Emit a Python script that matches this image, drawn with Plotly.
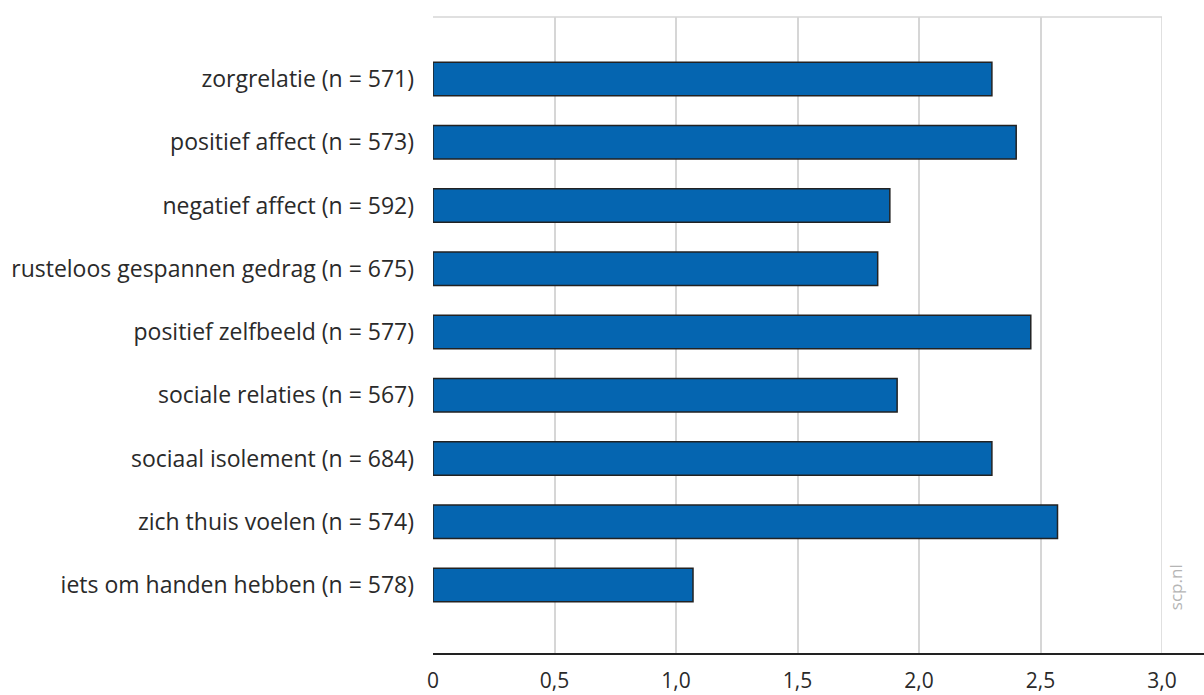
import plotly.graph_objects as go

# Gemiddelde scores per domein (met aantal respondenten)
categories = [
    "zorgrelatie (n = 571)",
    "positief affect (n = 573)",
    "negatief affect (n = 592)",
    "rusteloos gespannen gedrag (n = 675)",
    "positief zelfbeeld (n = 577)",
    "sociale relaties (n = 567)",
    "sociaal isolement (n = 684)",
    "zich thuis voelen (n = 574)",
    "iets om handen hebben (n = 578)",
]
values = [2.30, 2.40, 1.88, 1.83, 2.46, 1.91, 2.30, 2.57, 1.07]

tick_vals = [0, 0.5, 1.0, 1.5, 2.0, 2.5, 3.0]
tick_text = ["0", "0,5", "1,0", "1,5", "2,0", "2,5", "3,0"]

FONT = "Open Sans"
TEXT = "#2a2a2a"
GRID = "#d6d6d6"

fig = go.Figure(
    go.Bar(
        x=values,
        y=categories,
        orientation="h",
        width=0.53,
        marker=dict(color="#0565B0", line=dict(color="#222222", width=1.5)),
        hoverinfo="x+y",
    )
)

fig.update_layout(
    width=1204,
    height=695,
    margin=dict(l=433, r=42, t=17, b=41),
    paper_bgcolor="white",
    plot_bgcolor="white",
    showlegend=False,
    font=dict(family=FONT, size=22, color=TEXT),
)

fig.update_xaxes(
    range=[tick_vals[0], tick_vals[-1]],
    tickvals=tick_vals,
    ticktext=tick_text,
    showgrid=True,
    gridcolor=GRID,
    gridwidth=1.5,
    zeroline=False,
    showline=False,
    ticks="",
    ticklabelstandoff=12,
    tickfont=dict(family=FONT, size=21, color=TEXT),
    automargin=False,
    fixedrange=True,
)

fig.update_yaxes(
    type="category",
    categoryorder="array",
    categoryarray=categories,
    range=[9.09, -0.98],
    showgrid=False,
    zeroline=False,
    showline=False,
    ticks="",
    ticklabelstandoff=18,
    tickfont=dict(family=FONT, size=23, color=TEXT),
    automargin=False,
    fixedrange=True,
)

# bovenrand, laatste rasterlijn en x-as
fig.add_shape(type="line", xref="paper", yref="paper", x0=0, x1=1, y0=1, y1=1,
              line=dict(color=GRID, width=1.5))
fig.add_shape(type="line", xref="x", yref="paper", x0=tick_vals[-1], x1=tick_vals[-1],
              y0=0, y1=1, line=dict(color=GRID, width=1.5), layer="below")
fig.add_shape(type="line", xref="paper", yref="paper", x0=0, x1=771 / 729, y0=0, y1=0,
              line=dict(color="#222222", width=2))

fig.add_annotation(
    text="scp.nl",
    xref="paper", yref="paper",
    x=1.038, y=0.066,
    textangle=-90,
    showarrow=False,
    font=dict(family=FONT, size=17, color="#b5b5b5"),
)

fig.write_html("out.html")
